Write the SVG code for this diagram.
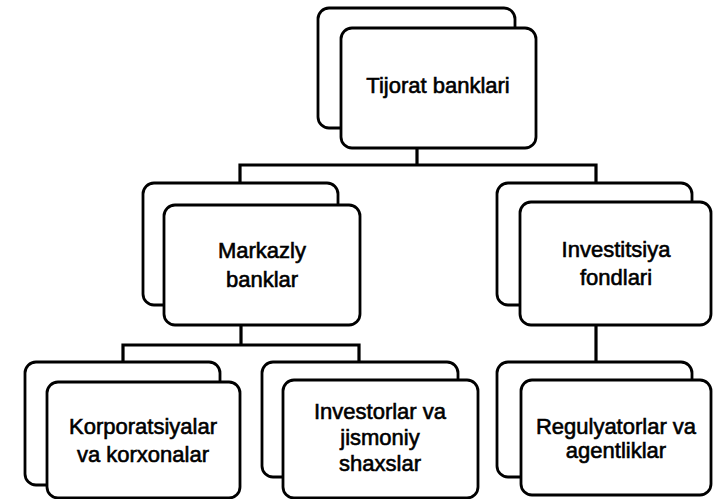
<svg xmlns="http://www.w3.org/2000/svg" width="713" height="499" viewBox="0 0 713 499">
<style>
.back{fill:#fff;stroke:#000;stroke-width:2.8}
.front{fill:#fff;stroke:#000;stroke-width:2.8}
.lbl{font-family:"Liberation Sans",Arial,sans-serif;font-size:22px;fill:#000;text-anchor:middle;stroke:#000;stroke-width:0.6}
.conn{fill:none;stroke:#000;stroke-width:3.2}
</style>
<rect width="713" height="499" fill="#fff"/>
<g id="connectors">
<polyline class="conn" points="417,148 417,165"/>
<polyline class="conn" points="240,183 240,165 596,165 596,183"/>
<polyline class="conn" points="241,325 241,345"/>
<polyline class="conn" points="123,362 123,345 359,345 359,362"/>
<polyline class="conn" points="596,325 596,362"/>
</g>
<g id="node-tijorat">
<rect class="back" x="318" y="8" width="197" height="120" rx="11"/>
<rect class="front" x="341" y="28" width="195" height="120" rx="11"/>
<text class="lbl" x="438" y="93">Tijorat banklari</text>
</g>
<g id="node-markazly">
<rect class="back" x="143" y="183" width="195" height="122" rx="11"/>
<rect class="front" x="164" y="205" width="196" height="120" rx="11"/>
<text class="lbl" x="262" y="258">Markazly</text>
<text class="lbl" x="262" y="287">banklar</text>
</g>
<g id="node-investitsiya">
<rect class="back" x="497" y="183" width="195" height="122" rx="11"/>
<rect class="front" x="520" y="202" width="191" height="123" rx="11"/>
<text class="lbl" x="616" y="257">Investitsiya</text>
<text class="lbl" x="616" y="285">fondlari</text>
</g>
<g id="node-korporatsiyalar">
<rect class="back" x="25" y="362" width="195" height="123" rx="11"/>
<rect class="front" x="47" y="382" width="193" height="116" rx="11"/>
<text class="lbl" x="143" y="434">Korporatsiyalar</text>
<text class="lbl" x="143" y="462">va korxonalar</text>
</g>
<g id="node-investorlar">
<rect class="back" x="262" y="362" width="196" height="115" rx="11"/>
<rect class="front" x="283" y="380" width="195" height="118" rx="11"/>
<text class="lbl" x="380" y="419">Investorlar va</text>
<text class="lbl" x="380" y="445">jismoniy</text>
<text class="lbl" x="380" y="471">shaxslar</text>
</g>
<g id="node-regulyatorlar">
<rect class="back" x="497" y="362" width="195" height="115" rx="11"/>
<rect class="front" x="521" y="380" width="190" height="115" rx="11"/>
<text class="lbl" x="616" y="434">Regulyatorlar va</text>
<text class="lbl" x="616" y="458">agentliklar</text>
</g>
</svg>
